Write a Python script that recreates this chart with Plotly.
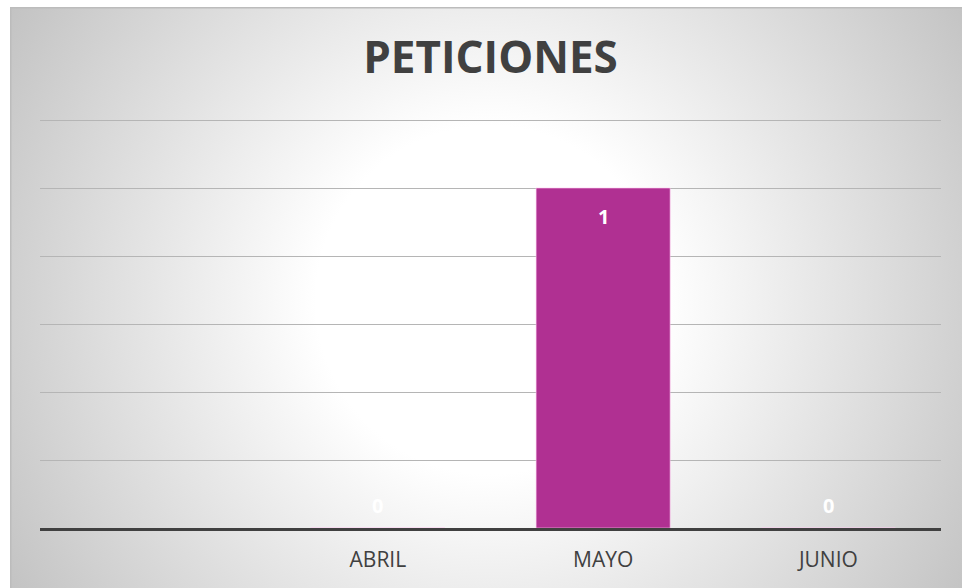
import base64
import plotly.graph_objects as go

# ---- data ----
categories = [" ", "ABRIL", "MAYO", "JUNIO"]
values = [None, 0, 1, 0]
title_text = "PETICIONES"

# ---- layout geometry (px) ----
W, H = 962, 588
L, R, T, B = 40, 21, 113, 60
plot_w = W - L - R
plot_h = H - T - B
px_per_unit = 340.0
y_max = plot_h / px_per_unit  # slightly above 1.2 so the top gridline is drawn

# background panel with radial gradient (SVG data URI)
px0, py0 = 10, 7
pw, ph = W - px0, H - py0
svg = f'''<svg xmlns="http://www.w3.org/2000/svg" width="{pw}" height="{ph}" viewBox="0 0 {pw} {ph}">
<defs><radialGradient id="g" gradientUnits="userSpaceOnUse" cx="{490-px0}" cy="{300-py0}" r="580">
<stop offset="0" stop-color="#ffffff"/><stop offset="0.3" stop-color="#ffffff"/>
<stop offset="1" stop-color="#c0c0c0"/></radialGradient></defs>
<rect x="0" y="0" width="{pw}" height="{ph}" fill="url(#g)"/>
<line x1="0.75" y1="0" x2="0.75" y2="{ph}" stroke="#bcbcbc" stroke-width="1.5"/>
<line x1="0" y1="0.75" x2="{pw}" y2="0.75" stroke="#bcbcbc" stroke-width="1.5"/>
</svg>'''
src = "data:image/svg+xml;base64," + base64.b64encode(svg.encode()).decode()

def to_px_x(px):
    return (px - L) / plot_w

def to_px_y(py):
    return 1 - (py - T) / plot_h

fig = go.Figure()
fig.add_trace(go.Bar(
    x=categories, y=values,
    marker=dict(color="#b03092", line=dict(color="rgba(255,200,240,0.6)", width=1)),
    hoverinfo="skip",
))

annotations = []
for c, v in zip(categories, values):
    if v is None:
        continue
    annotations.append(dict(x=c, y=v, xref="x", yref="y", text=str(v), showarrow=False,
                            yanchor="middle", yshift=(-28 if v > 0 else 23),
                            font=dict(family="Open Sans", size=20, color="white", weight="bold")))

fig.update_layout(
    width=W, height=H,
    margin=dict(l=L, r=R, t=T, b=B),
    paper_bgcolor="white",
    plot_bgcolor="rgba(0,0,0,0)",
    showlegend=False,
    bargap=0.405,
    title=dict(text=title_text, x=to_px_x(490.5), xref="paper", xanchor="center",
               y=1 - 58 / H, yanchor="middle",
               font=dict(family="Open Sans", size=44, color="#404040", weight="bold")),
    xaxis=dict(showline=True, linecolor="#404040", linewidth=3, showgrid=False,
               ticks="", ticklabelstandoff=11,
               tickfont=dict(family="Open Sans", size=21, color="#404040"),
               fixedrange=True),
    yaxis=dict(range=[0, y_max], tick0=0, dtick=0.2, showgrid=True, gridcolor="#b5b5b5", gridwidth=1.2,
               zeroline=False, showticklabels=False, ticks="", fixedrange=True),
    images=[dict(source=src, xref="paper", yref="paper",
                 x=to_px_x(px0), y=to_px_y(py0),
                 sizex=pw / plot_w, sizey=ph / plot_h,
                 xanchor="left", yanchor="top", sizing="stretch", layer="below")],
    annotations=annotations,
)

fig.write_html("out.html", config={"displayModeBar": False},
               post_script="document.body.style.margin='0px';document.body.style.padding='0px';")
